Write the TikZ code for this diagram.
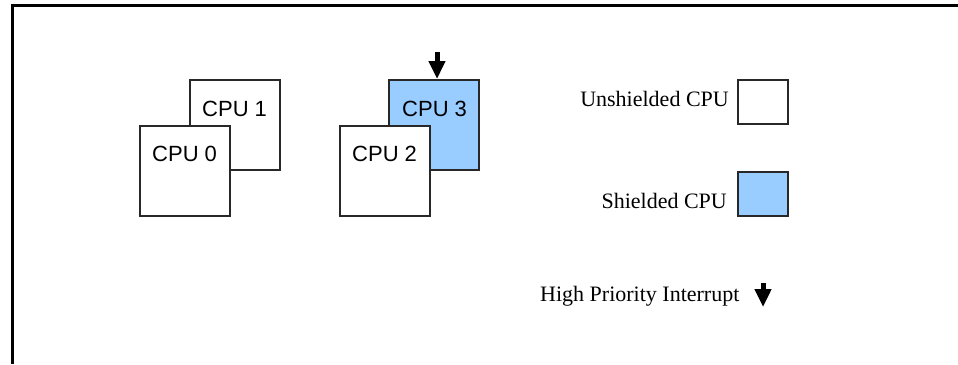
\documentclass[tikz,border=0pt]{standalone}
\usepackage{fontspec}
\setmainfont{Liberation Serif}
\newfontfamily\cpufont{Liberation Sans}
\usetikzlibrary{arrows.meta}
\definecolor{shieldblue}{RGB}{153,204,255}
\definecolor{boxline}{RGB}{40,40,40}
\tikzset{
  cpubox/.style={draw=boxline, line width=1.6pt, fill=white, rectangle, inner sep=0pt, anchor=north west, minimum width=90pt, minimum height=90pt},
  shielded/.style={fill=shieldblue},
  legbox/.style={draw=boxline, line width=1.6pt, fill=white, rectangle, inner sep=0pt, anchor=north west, minimum width=50pt, minimum height=44pt},
  cpulabel/.style={anchor=base west, inner sep=0pt, font=\cpufont\fontsize{22}{26}\selectfont},
  legtext/.style={inner sep=0pt, font=\fontsize{22}{26}\selectfont},
  irq/.style={line width=5pt, -{Triangle[width=16pt,length=18pt]}},
}
\begin{document}
\begin{tikzpicture}[x=1pt,y=-1pt]
\useasboundingbox (0,0) rectangle (958,364);
\fill[white] (0,0) rectangle (958,364);
% frame (only top and left edges visible)
\draw[line width=3.2pt] (12.5,364) -- (12.5,5.5) -- (958,5.5);

% left pair
\node[cpubox] (cpu1) at (189,79) {};
\node[cpulabel] (cpu1l) at (202,116) {CPU 1};
\node[cpubox] (cpu0) at (139,125) {};
\node[cpulabel] (cpu0l) at (152,161) {CPU 0};

% right pair
\node[cpubox, shielded] (cpu3) at (388,79) {};
\node[cpulabel] (cpu3l) at (402,116) {CPU 3};
\node[cpubox] (cpu2) at (339,125) {};
\node[cpulabel] (cpu2l) at (352,161) {CPU 2};

% interrupt arrow on CPU 3
\coordinate (irqtop) at (437,52);
\draw[irq] (irqtop) -- (irqtop |- cpu3.north);

% legend
\node[legtext, anchor=base east] (unsh) at (729,106) {Unshielded CPU};
\node[legbox] (unshbox) at (737,79) {};
\node[legtext, anchor=base east] (sh) at (727,208) {Shielded CPU};
\node[legbox, shielded] (shbox) at (737,171) {};
\node[legtext, anchor=base west] (hpi) at (540,301) {High Priority Interrupt};
\coordinate (legirqtop) at (763,283);
\coordinate (legirqbot) at (763,307);
\draw[irq] (legirqtop) -- (legirqbot);
\end{tikzpicture}
\end{document}
